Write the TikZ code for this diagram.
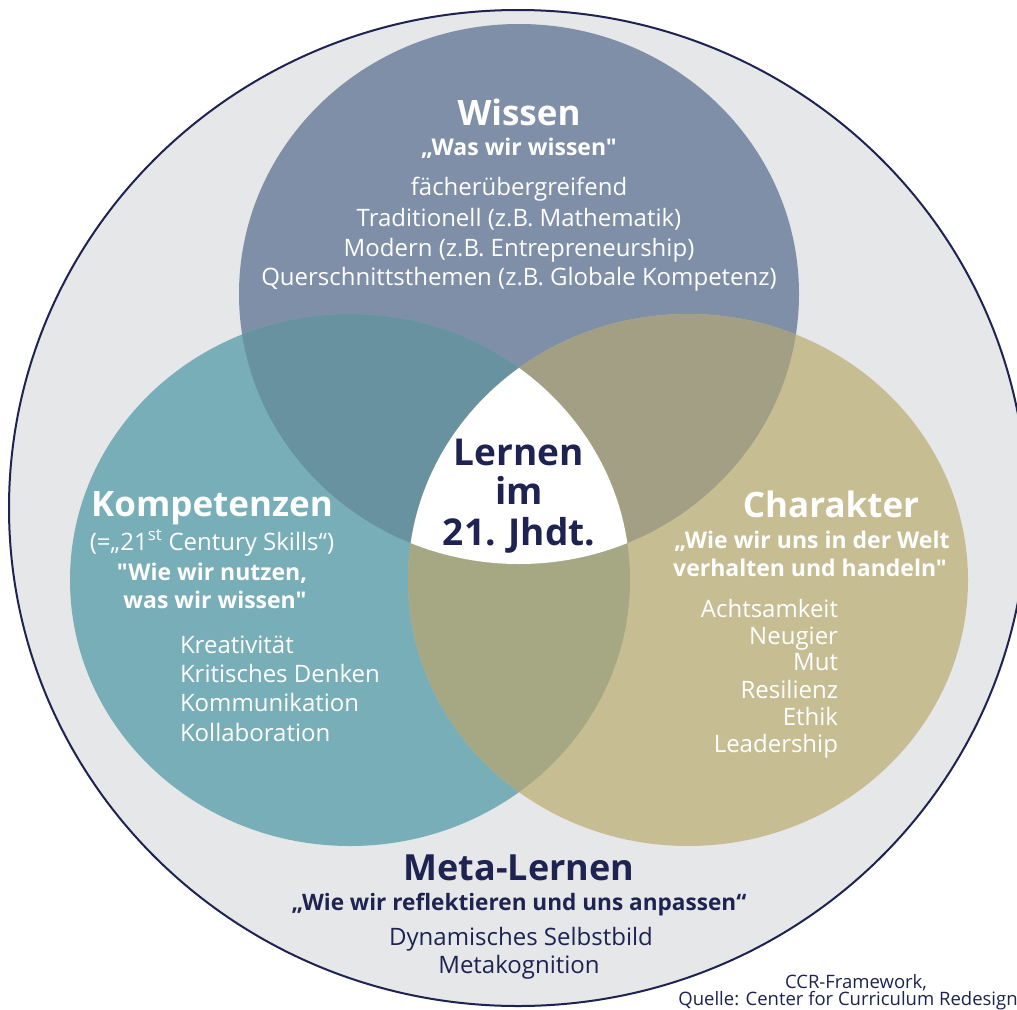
\documentclass[tikz,border=0pt]{standalone}
\usepackage{fontspec}
\setmainfont{Open Sans}[Ligatures=TeXOff]
\definecolor{navy}{HTML}{1E2352}
\definecolor{bggray}{HTML}{E6E7E9}
\definecolor{wissenblue}{HTML}{7F8FA7}
\definecolor{kompteal}{HTML}{78AEB8}
\definecolor{chartan}{HTML}{C7BD93}
\definecolor{wkmix}{HTML}{6892A0}
\definecolor{wcmix}{HTML}{A29F84}
\definecolor{kcmix}{HTML}{A5A882}
\tikzset{
  txt/.style={anchor=base, inner sep=0pt, outer sep=0pt},
  title/.style={txt, font=\fontsize{35}{38}\selectfont\bfseries, text=white},
  motto/.style={txt, font=\fontsize{23}{25}\selectfont\bfseries, text=white},
  item/.style={txt, font=\fontsize{24}{26}\selectfont, text=white},
  center/.style={txt, font=\fontsize{37}{40}\selectfont\bfseries, text=navy},
  metatitle/.style={txt, font=\fontsize{36}{38}\selectfont\bfseries, text=navy},
  metamotto/.style={txt, font=\fontsize{22.6}{25}\selectfont\bfseries, text=navy},
  metaitem/.style={txt, font=\fontsize{24}{26}\selectfont, text=navy},
  source/.style={txt, font=\fontsize{18.5}{20}\selectfont, text=navy},
  blob/.style={x radius=280pt, y radius=266pt},
  topblob/.style={x radius=280pt, y radius=270pt},
}
\begin{document}
\begin{tikzpicture}[x=1pt, y=-1pt]
\useasboundingbox (0,0) rectangle (1017,1009);
\fill[white] (0,0) rectangle (1017,1009);
\clip (0,0) rectangle (1017,1009);

% outer ring: Meta-Lernen
\coordinate (O) at (518,508);
\filldraw[fill=bggray, draw=navy, line width=2pt] (O) ellipse [x radius=509pt, y radius=498pt];

% the three domains
\coordinate (W) at (519,294);
\coordinate (K) at (350,580);
\coordinate (C) at (688,580);
\fill[wissenblue] (W) ellipse [topblob];
\fill[kompteal] (K) ellipse [blob];
\fill[chartan] (C) ellipse [blob];

% pairwise overlaps
\begin{scope}
  \clip (W) ellipse [topblob];
  \fill[wkmix] (K) ellipse [blob];
  \fill[wcmix] (C) ellipse [blob];
\end{scope}
\begin{scope}
  \clip (K) ellipse [blob];
  \fill[kcmix] (C) ellipse [blob];
\end{scope}
% common core
\begin{scope}
  \clip (W) ellipse [topblob];
  \clip (K) ellipse [blob];
  \fill[white] (C) ellipse [blob];
\end{scope}

% Wissen
\node[title] (w1) at (519,125) {Wissen};
\node[motto] (w2) at (519,155) {„Was wir wissen"};
\node[item] (w3) at (519,195) {fächerübergreifend};
\node[item] (w4) at (519,226) {Traditionell (z.B. Mathematik)};
\node[item] (w5) at (519,256) {Modern (z.B. Entrepreneurship)};
\node[item] (w6) at (519,285) {Querschnittsthemen (z.B. Globale Kompetenz)};

% core
\node[center] (c1) at (519,465) {Lernen};
\node[center] (c2) at (519,504) {im};
\node[center] (c3) at (519,545) {21. Jhdt.};

% Kompetenzen
\node[title] (k1) at (212,516) {Kompetenzen};
\node[item] (k2) at (212,550) {(=„21\textsuperscript{st} Century Skills“)};
\node[motto] (k3) at (212,580) {"Wie wir nutzen,};
\node[motto] (k4) at (215,608) {was wir wissen"};
\node[item, anchor=base west] (k5) at (180,653) {Kreativität};
\node[item, anchor=base west] (k6) at (180,682) {Kritisches Denken};
\node[item, anchor=base west] (k7) at (180,711) {Kommunikation};
\node[item, anchor=base west] (k8) at (180,741) {Kollaboration};

% Charakter
\node[title] (h1) at (831,517) {Charakter};
\node[motto] (h2) at (812,548) {„Wie wir uns in der Welt};
\node[motto] (h3) at (810,576) {verhalten und handeln"};
\node[item, anchor=base east] (h4) at (838,617) {Achtsamkeit};
\node[item, anchor=base east] (h5) at (838,644) {Neugier};
\node[item, anchor=base east] (h6) at (838,670) {Mut};
\node[item, anchor=base east] (h7) at (838,698) {Resilienz};
\node[item, anchor=base east] (h8) at (838,725) {Ethik};
\node[item, anchor=base east] (h9) at (838,752) {Leadership};

% Meta-Lernen
\node[metatitle] (m1) at (519,880) {Meta-Lernen};
\node[metamotto] (m2) at (519,910) {„Wie wir reflektieren und uns anpassen“};
\node[metaitem] (m3) at (521,945) {Dynamisches Selbstbild};
\node[metaitem] (m4) at (519,973) {Metakognition};

% source
\node[source] (s1) at (856,988) {CCR-Framework,};
\node[source] (s2) at (848,1005) {Quelle: Center for Curriculum Redesign};
\end{tikzpicture}
\end{document}
